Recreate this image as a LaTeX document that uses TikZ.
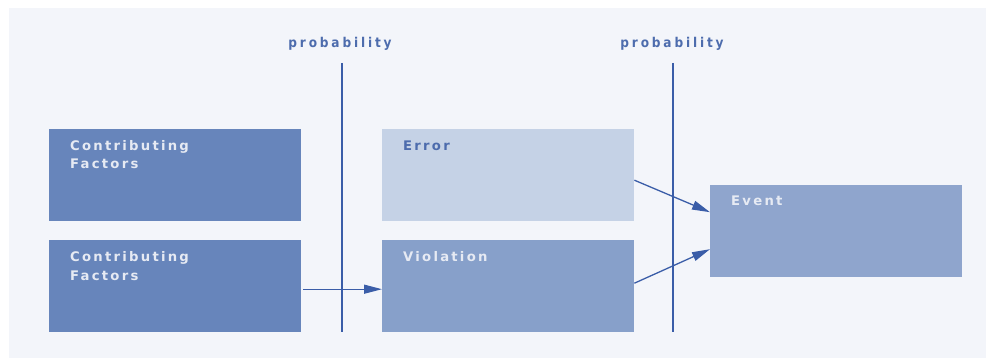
\documentclass[tikz,border=0pt]{standalone}
\usepackage{fontspec}
\setmainfont{Liberation Sans}
\newfontfamily\boxfont[LetterSpace=17]{DejaVu Sans Bold}
\newfontfamily\probfont[LetterSpace=21]{DejaVu Sans Condensed Bold}
\usetikzlibrary{arrows.meta,positioning}

\definecolor{panel}{HTML}{F3F5FA}
\definecolor{cfblue}{HTML}{6785BB}
\definecolor{errblue}{HTML}{C5D2E6}
\definecolor{violblue}{HTML}{87A0CA}
\definecolor{evblue}{HTML}{8FA5CD}
\definecolor{lineblue}{HTML}{3A5DA8}
\definecolor{paletxt}{HTML}{E6EAF3}
\definecolor{darktxt}{HTML}{4D6CAD}

\tikzset{
  box/.style={rectangle, inner sep=0pt, minimum width=252pt, minimum height=92pt, anchor=north west},
  boxtext/.style={anchor=base west, inner sep=0pt, font=\boxfont\fontsize{13.2pt}{18pt}\selectfont, align=left},
  problabel/.style={anchor=base, inner sep=0pt, text=darktxt, font=\probfont\fontsize{13.5pt}{15pt}\selectfont},
  divider/.style={draw=lineblue, line width=1.6pt},
  flow/.style={draw=lineblue, line width=1.3pt, -{Triangle[length=18pt,width=9pt]}}
}

\begin{document}
\begin{tikzpicture}[x=1pt, y=-1pt]
  % canvas and light panel
  \fill[white] (0,0) rectangle (986,358);
  \useasboundingbox (0,0) rectangle (986,358);
  \fill[panel] (9,8) rectangle (986,358);

  % boxes
  \node[box, fill=cfblue]   (cf1)  at (49,129)  {};
  \node[box, fill=cfblue]   (cf2)  at (49,240)  {};
  \node[box, fill=errblue]  (err)  at (382,129) {};
  \node[box, fill=violblue] (viol) at (382,240) {};
  \node[box, fill=evblue]   (ev)   at (710,185) {};

  % box captions (two-line captions are anchored on their last line)
  \node[boxtext, text=paletxt] (cf1t)  at (70,169)  {Contributing\\Factors};
  \node[boxtext, text=paletxt] (cf2t)  at (70,280)  {Contributing\\Factors};
  \node[boxtext, text=darktxt] (errt)  at (403,151) {Error};
  \node[boxtext, text=paletxt] (violt) at (403,262) {Violation};
  \node[boxtext, text=paletxt] (evt)   at (731,206) {Event};

  % probability barriers
  \coordinate (b1top) at (342,63);
  \coordinate (b1bot) at (342,332);
  \coordinate (b2top) at (673,63);
  \coordinate (b2bot) at (673,332);
  \draw[divider] (b1top) -- (b1bot);
  \draw[divider] (b2top) -- (b2bot);
  \node[problabel] (p1) at (340,48) {probability};
  \node[problabel] (p2) at (672,48) {probability};

  % flows
  \draw[flow] ([xshift=2pt,yshift=-3pt]cf2.east) -- ([yshift=-3pt]viol.west);
  \draw[flow] ([yshift=-5pt]err.east) -- ([yshift=19pt]ev.west);
  \draw[flow] ([yshift=3pt]viol.east) -- ([yshift=-18pt]ev.west);
\end{tikzpicture}
\end{document}
